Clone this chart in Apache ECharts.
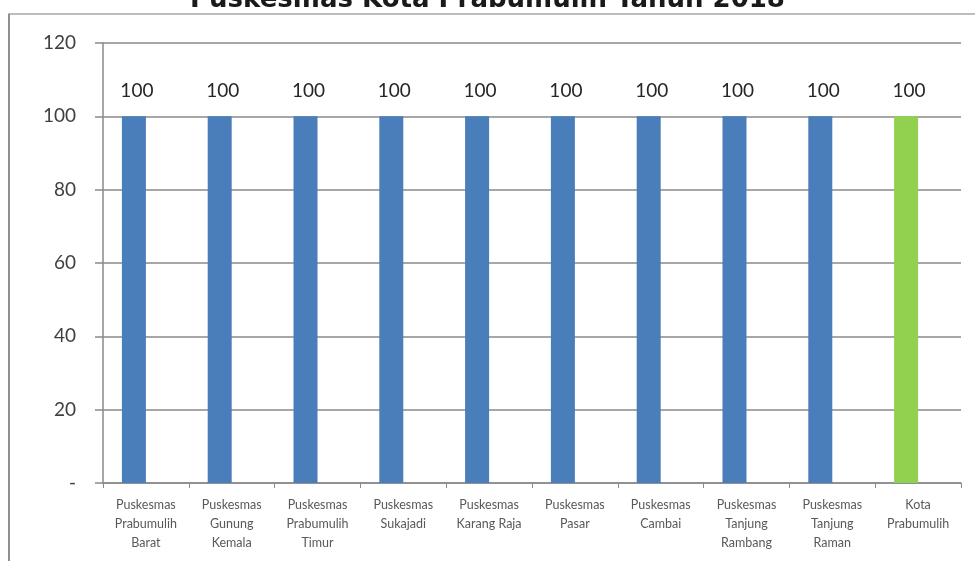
<!DOCTYPE html>
<html>
<head>
<meta charset="utf-8">
<script src="https://cdn.jsdelivr.net/npm/echarts@6/dist/echarts.min.js"></script>
<style>
  html, body { margin: 0; padding: 0; background: #ffffff; }
  #chart { width: 975px; height: 561px; }
</style>
</head>
<body>
<div id="chart"></div>
<script>
// Health centres (Puskesmas) of Prabumulih and the city total
const categories = [
  'Puskesmas\nPrabumulih\nBarat',
  'Puskesmas\nGunung\nKemala',
  'Puskesmas\nPrabumulih\nTimur',
  'Puskesmas\nSukajadi',
  'Puskesmas\nKarang Raja',
  'Puskesmas\nPasar',
  'Puskesmas\nCambai',
  'Puskesmas\nTanjung\nRambang',
  'Puskesmas\nTanjung\nRaman',
  'Kota\nPrabumulih'
];
// Percentage per health centre
const values = [100, 100, 100, 100, 100, 100, 100, 100, 100, 100];
// Second (empty) series slot that sits beside each bar
const emptySlot = [null, null, null, null, null, null, null, null, null, null];
const yTicks = [0, 20, 40, 60, 80, 100, 120];

const titleText = 'Puskesmas Kota Prabumulih Tahun 2018';
const blue = '#4a7ebb';
const green = '#92d050';

const chart = echarts.init(document.getElementById('chart'), null, { renderer: 'canvas' });

chart.setOption({
  animation: false,
  backgroundColor: '#ffffff',
  title: {
    text: titleText,
    left: 'center',
    top: -18,
    textStyle: {
      fontFamily: 'DejaVu Sans',
      fontWeight: 'bold',
      fontSize: 26,
      color: '#1a1a1a'
    }
  },
  graphic: [
    { type: 'line', shape: { x1: 8, y1: 14, x2: 975, y2: 14 }, style: { stroke: '#bdbdbd', lineWidth: 2 }, silent: true },
    { type: 'line', shape: { x1: 9, y1: 14, x2: 9, y2: 561 }, style: { stroke: '#8f8f8f', lineWidth: 2 }, silent: true }
  ],
  grid: { left: 103, right: 14, top: 43, bottom: 78, containLabel: false },
  xAxis: {
    type: 'category',
    data: categories,
    axisLine: { show: true, lineStyle: { color: '#8a8a8a', width: 1.5 } },
    axisTick: { show: true, alignWithLabel: false, interval: 0, length: 5, lineStyle: { color: '#8a8a8a' } },
    axisLabel: {
      interval: 0,
      margin: 12,
      fontFamily: 'Lato',
      fontSize: 12.5,
      lineHeight: 19,
      color: '#595959'
    },
    splitLine: { show: false }
  },
  yAxis: {
    type: 'value',
    min: yTicks[0],
    max: yTicks[yTicks.length - 1],
    interval: yTicks[1] - yTicks[0],
    axisLine: { show: true, lineStyle: { color: '#8a8a8a', width: 1.5 } },
    axisTick: { show: true, inside: false, length: 8, lineStyle: { color: '#8a8a8a', width: 1.5 } },
    axisLabel: {
      margin: 27,
      fontFamily: 'Lato',
      fontSize: 19,
      color: '#404040',
      formatter: function (v) { return v === 0 ? '-' : String(v); }
    },
    splitLine: { show: true, lineStyle: { color: '#8a8a8a', width: 1.5 } }
  },
  series: [
    {
      name: 'Persentase',
      type: 'bar',
      barWidth: 24,
      barGap: '0%',
      data: values.map(function (v, i) {
        return {
          value: v,
          itemStyle: { color: i === values.length - 1 ? green : blue }
        };
      }),
      label: {
        show: true,
        position: 'top',
        distance: 16,
        offset: [3, 0],
        fontFamily: 'Lato',
        fontSize: 19,
        color: '#262626'
      }
    },
    {
      name: 'Slot',
      type: 'bar',
      barWidth: 24,
      barGap: '0%',
      data: emptySlot,
      itemStyle: { color: '#f6c58f' }
    }
  ]
});
</script>
</body>
</html>
